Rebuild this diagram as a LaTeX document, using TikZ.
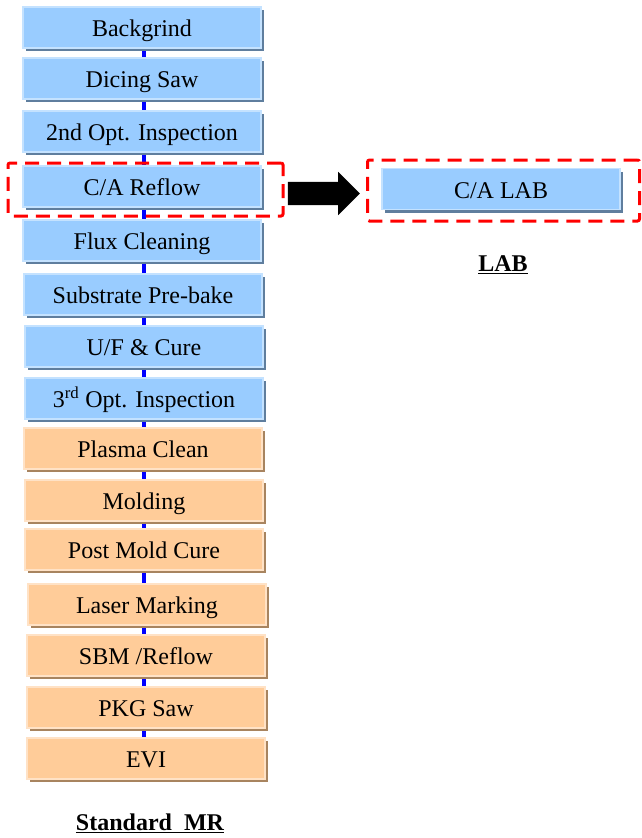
\documentclass[tikz,border=0pt]{standalone}
\usepackage{fontspec}
\setmainfont{Liberation Serif}
\usetikzlibrary{shapes.arrows,shadows,backgrounds}
\definecolor{boxblue}{HTML}{99CCFF}
\definecolor{bluelite}{HTML}{C4E2FF}
\definecolor{blueshad}{HTML}{5F7E9E}
\definecolor{boxorange}{HTML}{FFCC99}
\definecolor{orangelite}{HTML}{FFE2C6}
\definecolor{orangeshad}{HTML}{A8845F}
\begin{document}
\begin{tikzpicture}[x=1pt,y=-1pt,
  stepbox/.style={minimum width=238pt, minimum height=41pt, inner sep=0pt,
    text height=22pt, text depth=3.6pt,
    font=\fontsize{24}{28}\selectfont, line width=1.2pt},
  bluebox/.style={stepbox, fill=boxblue, draw=bluelite,
    drop shadow={shadow xshift=3pt, shadow yshift=-3pt, fill=blueshad, opacity=1}},
  orangebox/.style={stepbox, fill=boxorange, draw=orangelite,
    drop shadow={shadow xshift=3pt, shadow yshift=-3pt, fill=orangeshad, opacity=1}},
  conn/.style={draw=blue, line width=4pt},
  reddash/.style={draw=red, line width=3pt, dash pattern=on 14pt off 8pt, rounded corners=2pt, inner sep=0pt},
  title/.style={font=\fontsize{24}{28}\selectfont\bfseries}]
\useasboundingbox (0,0) rectangle (642,838);
\coordinate (lx) at (144,0);
\node[bluebox] (b1) at (142,27.5) {Backgrind};
\node[bluebox] (b2) at (142,78.5) {Dicing Saw};
\node[bluebox] (b3) at (142,131.5) {2nd Opt. Inspection};
\node[bluebox] (b4) at (142,186.5) {C/A Reflow};
\node[bluebox] (b5) at (142,240.5) {Flux Cleaning};
\node[bluebox] (b6) at (143,294.5) {Substrate Pre-bake};
\node[bluebox] (b7) at (144,346.5) {U/F \& Cure};
\node[bluebox] (b8) at (144,398.5) {3\textsuperscript{rd} Opt. Inspection};
\node[orangebox] (b9) at (143,448.5) {Plasma Clean};
\node[orangebox] (b10) at (144,500.5) {Molding};
\node[orangebox] (b11) at (144,549.5) {Post Mold Cure};
\node[orangebox] (b12) at (147,604.5) {Laser Marking};
\node[orangebox] (b13) at (146,655.5) {SBM /Reflow};
\node[orangebox] (b14) at (146,707.5) {PKG Saw};
\node[orangebox] (b15) at (146,758.5) {EVI};
\begin{pgfonlayer}{background}
\foreach \i/\j in {1/2,2/3,3/4,4/5,5/6,6/7,7/8,8/9,9/10,10/11,11/12,12/13,13/14,14/15}
  \draw[conn] (b\i.center -| lx) -- (b\j.center -| lx);
\end{pgfonlayer}
\node[bluebox] (lab) at (501,189) {C/A LAB};
\node[reddash, minimum width=275pt, minimum height=53pt] (hl1) at (145.5,189.5) {};
\node[reddash, minimum width=272pt, minimum height=61pt] (hl2) at (503.5,190.5) {};
\node[single arrow, fill=black, inner sep=0pt, text height=11.5pt, text depth=11.5pt,
  minimum height=72pt, minimum width=43pt, single arrow head extend=10pt] (arr) at (318,193.5) {};
\node[title] (labt) at (503,265) {\underline{LAB}};
\node[title] (stdt) at (150,823) {\underline{Standard\ \ MR}};
\end{tikzpicture}
\end{document}
